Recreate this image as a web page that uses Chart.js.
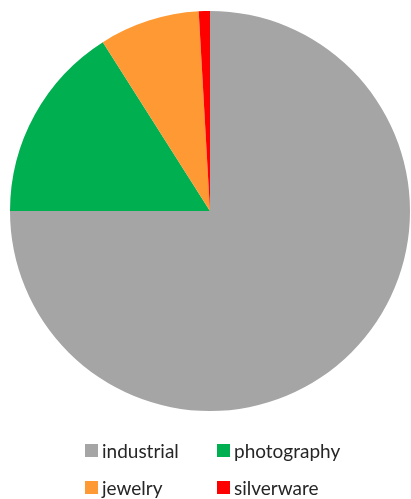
<!DOCTYPE html>
<html>
<head>
<meta charset="utf-8">
<script src="https://cdn.jsdelivr.net/npm/chart.js@4/dist/chart.umd.min.js"></script>
<style>
    html, body { margin: 0; padding: 0; background: #fff; }
    #wrap { position: relative; width: 411px; height: 499px; }
    #box { position: absolute; left: 0; top: 0; width: 411px; height: 420px; }
    #legend { position: absolute; left: 0; top: 0; width: 411px; height: 499px; pointer-events: none; }
    .item { position: absolute; display: flex; align-items: center; font-family: Lato, "Open Sans", sans-serif; font-size: 19px; color: #262626; }
    .swatch { width: 13px; height: 13px; margin-right: 4px; }
</style>
</head>
<body>
<div id="wrap">
    <div id="box"><canvas id="pieChart"></canvas></div>
    <div id="legend"></div>
</div>
<script>
const categories = ['industrial', 'photography', 'jewelry', 'silverware'];
const shares = [75, 16, 8.1, 0.9];
const colors = ['#a5a5a5', '#00b050', '#ff9933', '#ff0000'];

const pieItem = document.querySelector('#pieChart');

const config = {
    type: 'pie',
    data: {
        labels: categories,
        datasets: [{
            data: shares,
            backgroundColor: colors,
            borderWidth: 0
        }]
    },
    options: {
        responsive: true,
        maintainAspectRatio: false,
        animation: false,
        layout: {
            padding: { left: 10, right: 1, top: 11, bottom: 9 }
        },
        plugins: {
            legend: { display: false },
            tooltip: { enabled: false }
        }
    }
};
const pieChart = new Chart(pieItem, config);

// legend laid out as a 2x2 grid like the original
const legend = document.querySelector('#legend');
categories.forEach((name, i) => {
    let item = document.createElement('div');
    item.className = 'item';
    item.style.left = (i % 2 === 0 ? 85 : 217) + 'px';
    item.style.top = (i < 2 ? 439 : 476) + 'px';
    item.innerHTML = `<span class="swatch" style="background:${colors[i]}"></span><span>${name}</span>`;
    legend.appendChild(item);
});
</script>
</body>
</html>
